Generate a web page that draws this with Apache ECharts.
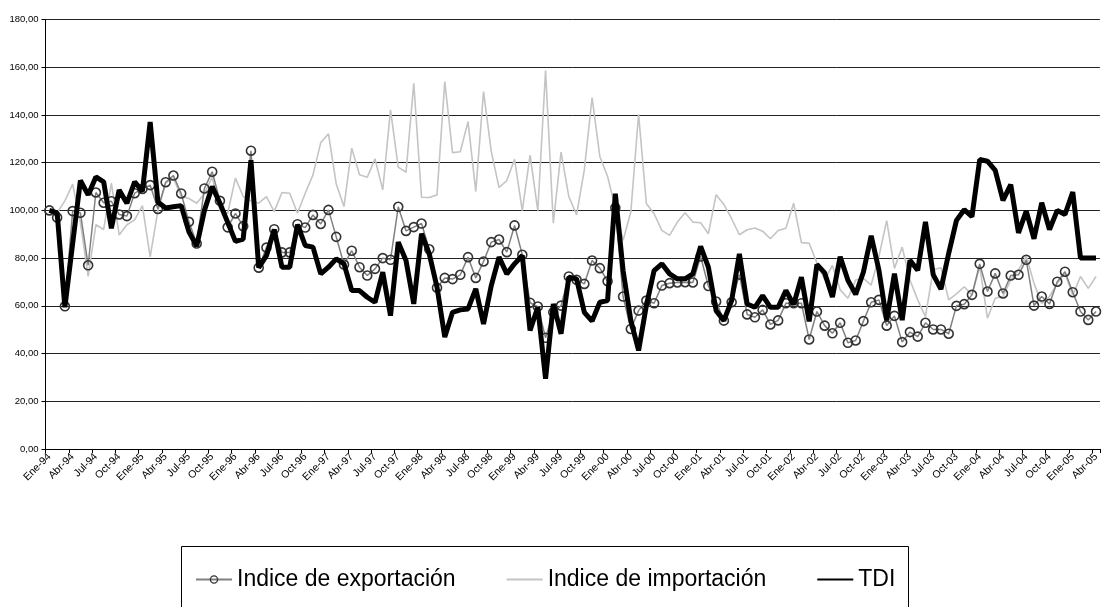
<!DOCTYPE html>
<html>
<head>
<meta charset="utf-8">
<script src="https://cdn.jsdelivr.net/npm/echarts@6/dist/echarts.min.js"></script>
<style>
  html, body { margin: 0; padding: 0; background: #fff; }
  #chart { width: 1102px; height: 607px; }
</style>
</head>
<body>
<div id="chart"></div>
<script>
// meses Ene-94 .. Abr-05 (136 meses)
const meses = ['Ene', 'Feb', 'Mar', 'Abr', 'May', 'Jun', 'Jul', 'Ago', 'Sep', 'Oct', 'Nov', 'Dic'];
const anios = ['94', '95', '96', '97', '98', '99', '00', '01', '02', '03', '04', '05'];
const categorias = [];
anios.forEach(a => meses.forEach(m => categorias.push(m + '-' + a)));
categorias.length = 136;

const exportacion = [
  100, 97, 59.8, 99.7, 99, 77, 107.5, 103.2, 103.8, 98.3, 97.6, 107.2,
  109, 110.6, 100.6, 111.8, 114.6, 107.1, 95.2, 86.1, 109.2, 116.2, 104, 92.9,
  98.7, 93.4, 125, 76, 84.4, 92.1, 82.4, 82.4, 94.2, 92.8, 98.1, 94.3,
  100.2, 88.9, 77.3, 83.1, 76.2, 72.7, 75.5, 80, 79.3, 101.5, 91.4, 93,
  94.5, 83.7, 67.6, 71.7, 71.2, 73, 80.4, 71.7, 78.6, 86.7, 87.8, 82.5,
  93.7, 81.4, 61.3, 59.7, 46.6, 57.3, 60.1, 72.3, 70.9, 69.2, 79, 75.8,
  70.3, 101.1, 63.9, 50.3, 58, 62.2, 61.1, 68.5, 69.5, 69.8, 69.9, 69.8,
  80.7, 68.3, 61.8, 53.8, 61.5, 73.1, 56.4, 55.2, 58.3, 52.2, 53.9, 61.1,
  61.1, 61.1, 45.9, 57.6, 51.7, 48.5, 52.9, 44.5, 45.5, 53.6, 61.5, 62.5,
  51.7, 55.8, 44.8, 49, 47.1, 52.9, 50.1, 50.1, 48.3, 60, 60.7, 64.6,
  77.6, 66, 73.6, 65.2, 72.7, 73, 79.3, 60.1, 63.9, 60.8, 70.1, 74.3,
  65.7, 57.6, 54.1, 57.6
];

const importacion = [
  100, 99, 104, 111, 95, 72.3, 94, 92, 111.4, 89.7, 94, 96,
  102, 80.5, 100, 111.4, 113.5, 105.8, 105, 103, 107, 114, 100, 98.8,
  113.5, 105.8, 104, 103, 105.8, 99.5, 107.5, 107.2, 98.8, 107.2, 114.9, 128.4,
  132.1, 111.1, 101.6, 126.1, 114.9, 113.9, 121.6, 108.6, 142.1, 118.1, 116, 153.3,
  105.5, 105.4, 106.5, 154, 124.2, 124.6, 137.2, 107.9, 149.8, 124.6, 109.6, 112.5,
  121.4, 99.9, 123.2, 99.9, 158.6, 94.6, 124.4, 105.8, 98.1, 117, 147.3, 122.6,
  114.2, 101, 87.5, 99.3, 140.3, 102.9, 98.6, 91.6, 89.5, 95.1, 99, 95.1,
  94.8, 90.2, 106.6, 102.5, 96.5, 89.8, 91.9, 92.6, 91.3, 88.1, 91.6, 92.5,
  103, 86.5, 86.2, 78, 71, 76.9, 66.7, 63.2, 70.8, 71.5, 68.7, 80.7,
  95.7, 75.7, 84.6, 70.8, 62.5, 55.5, 75.1, 76, 62.5, 65, 68, 64.5,
  76.5, 54.8, 63.2, 63.9, 70.9, 75, 80.9, 69.4, 61, 63.9, 69.4, 73.6,
  64.5, 72.3, 67.3, 72.3
];

const tdi = [
  100, 99, 59.4, 86, 112.5, 106.5, 114, 112, 92.5, 108.5, 103, 112,
  108, 137, 103.5, 101, 101.5, 102, 91, 85, 100, 110, 103, 95,
  87, 88, 121, 76, 81, 92, 76.2, 76.2, 94, 85.3, 84.6, 73.4,
  76.2, 79.7, 77.6, 66.4, 66.4, 63.6, 61.5, 74.1, 55.9, 86.7, 79, 60.8,
  90.2, 81.8, 67.8, 46.9, 57.3, 58.3, 58.7, 67.1, 52.4, 68.5, 80.4, 73.4,
  77.6, 81.1, 49.7, 59.4, 29.4, 60.8, 48.3, 72, 71.3, 57.3, 53.6, 61.5,
  62.2, 107, 74.8, 53.8, 41.3, 60.1, 74.8, 77.6, 73.4, 71.3, 71.3, 73.4,
  84.9, 76.2, 58, 53.8, 62.2, 81.8, 60.8, 59.4, 64.3, 59.4, 59.4, 66.4,
  60.5, 72, 53.5, 77.3, 73.8, 63.7, 80.6, 70.7, 64.8, 74.2, 89.4, 74.9,
  53.9, 73.5, 54, 79.1, 74.9, 95.2, 73.1, 67, 82, 95.8, 100.3, 97.4,
  121.3, 120.6, 116.8, 104.2, 110.8, 90.6, 99.7, 88.1, 103.2, 92, 100, 98.3,
  107.7, 80, 80, 80
];

const yMin = 0, yMax = 180, yPaso = 20;
const fuente = 'Liberation Sans, Arial, sans-serif';

const chart = echarts.init(document.getElementById('chart'));

chart.setOption({
  animation: false,
  backgroundColor: '#fff',
  grid: { left: 45.5, top: 19.5, width: 1061, height: 429.5 },
  xAxis: {
    type: 'category',
    data: categorias,
    boundaryGap: true,
    axisLine: { lineStyle: { color: '#000', width: 1 } },
    axisTick: { show: true, interval: 2, length: 4, lineStyle: { color: '#000' } },
    axisLabel: {
      interval: 2, rotate: 45, margin: 6, hideOverlap: false,
      fontSize: 10.5, color: '#000', fontFamily: fuente
    },
    splitLine: { show: false }
  },
  yAxis: {
    type: 'value',
    min: yMin, max: yMax, interval: yPaso,
    axisLine: { show: true, lineStyle: { color: '#000', width: 1 } },
    axisTick: { show: true, length: 4, lineStyle: { color: '#000' } },
    axisLabel: {
      margin: 7, fontSize: 9.5, color: '#000', fontFamily: fuente,
      formatter: v => v.toFixed(2).replace('.', ',')
    },
    splitLine: { lineStyle: { color: '#222', width: 1 } }
  },
  legend: {
    data: [
      { name: 'Indice de exportación',
        itemStyle: { color: 'rgba(255,255,255,0)', borderColor: '#333', borderWidth: 1.3 } },
      { name: 'Indice de importación', itemStyle: { opacity: 0 } },
      { name: 'TDI', itemStyle: { opacity: 0 } }
    ],
    left: 190, top: 563,
    itemWidth: 36, itemHeight: 9, itemGap: 50,
    textStyle: { fontSize: 23, color: '#000', fontFamily: fuente }
  },
  graphic: [{
    type: 'rect',
    shape: { x: 181.5, y: 546.5, width: 727, height: 80 },
    style: { fill: 'none', stroke: '#000', lineWidth: 1 },
    silent: true
  }],
  series: [
    {
      name: 'Indice de exportación',
      type: 'line',
      data: exportacion,
      symbol: 'circle',
      symbolSize: 9,
      showAllSymbol: true,
      lineStyle: { color: '#808080', width: 1.5 },
      itemStyle: { color: 'rgba(255,255,255,0)', borderColor: '#333', borderWidth: 1.6 },
      z: 2
    },
    {
      name: 'Indice de importación',
      type: 'line',
      data: importacion,
      symbol: 'none',
      lineStyle: { color: '#c4c4c4', width: 1.6 },
      itemStyle: { color: '#c4c4c4' },
      z: 1
    },
    {
      name: 'TDI',
      type: 'line',
      data: tdi,
      symbol: 'none',
      lineStyle: { color: '#000', width: 5 },
      itemStyle: { color: '#000' },
      z: 3
    }
  ]
});
</script>
</body>
</html>
